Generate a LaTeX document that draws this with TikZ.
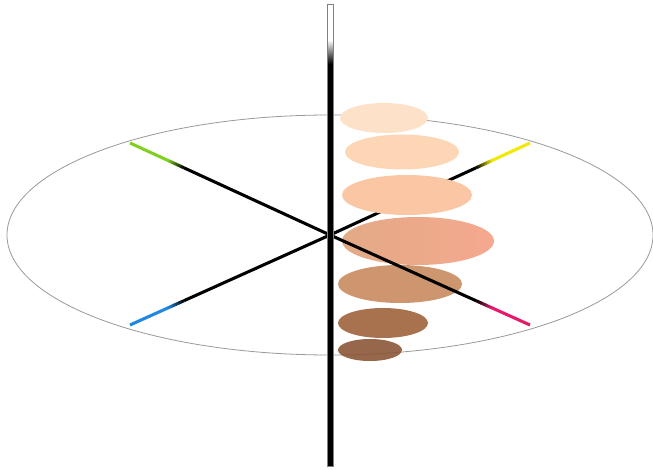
\documentclass[tikz,border=0pt]{standalone}
\usetikzlibrary{calc}
\begin{document}
\begin{tikzpicture}[x=0.75pt,y=-0.75pt]
\definecolor{eA}{HTML}{FDE1C9}
\definecolor{eB}{HTML}{FDD7B5}
\definecolor{eC}{HTML}{FBC6A3}
\definecolor{eDl}{HTML}{E2AA86}
\definecolor{eDr}{HTML}{F6A88E}
\definecolor{eE}{HTML}{CE966E}
\definecolor{eF}{HTML}{A8724F}
\definecolor{eG}{HTML}{8B5637}
\definecolor{axG}{HTML}{80D020}
\definecolor{axY}{HTML}{F2E800}
\definecolor{axB}{HTML}{2088E0}
\definecolor{axM}{HTML}{E8186A}
\tikzset{
  axisline/.style={line width=2.3pt,line cap=butt},
  skin/.style={draw=none},
}
\useasboundingbox (0,0) rectangle (653,470);
\coordinate (O) at (330,235);
\coordinate (G) at (130,143);
\coordinate (Y) at (530,143);
\coordinate (B) at (130,325);
\coordinate (M) at (530,325);
% outer ellipse
\draw[gray!80,line width=0.6pt] (O) ellipse [x radius=323, y radius=120];
% colored axes
\newcommand{\coloraxis}[2]{%
  \draw[axisline,black] (O) -- ($(O)!0.73!(#1)$);
  \foreach \i in {0,...,9}{%
    \pgfmathsetmacro{\ta}{0.73+0.008*\i}
    \pgfmathsetmacro{\tb}{0.73+0.008*(\i+1)+0.002}
    \pgfmathsetmacro{\pc}{10*\i+5}
    \draw[axisline,#2!\pc!black] ($(O)!\ta!(#1)$) -- ($(O)!\tb!(#1)$);
  }
  \draw[axisline,#2] ($(O)!0.81!(#1)$) -- (#1);
}
\coloraxis{G}{axG}
\coloraxis{B}{axB}
\coloraxis{Y}{axY}
% skin ellipses
\fill[skin,eA] (384,118) ellipse [x radius=44, y radius=15];
\fill[skin,eB] (402,152) ellipse [x radius=57, y radius=17.5];
\fill[skin,eC] (407,195) ellipse [x radius=65, y radius=20];
\shade[skin,left color=eDl,right color=eDr] (418,241) ellipse [x radius=76, y radius=24];
\fill[skin,eE] (400,284) ellipse [x radius=62, y radius=19];
\fill[skin,eF] (383,323) ellipse [x radius=45, y radius=15];
\fill[skin,eG,fill opacity=0.9] (370,350) ellipse [x radius=32, y radius=11];
% front axis
\coloraxis{M}{axM}
% vertical axis
\fill[white] (327,4) rectangle (333,40);
\shade[top color=white,bottom color=black] (327,40) rectangle (333,64);
\fill[black] (327,64) rectangle (333,466);
\draw[gray,line width=0.5pt] (327,4) rectangle (333,466);
\end{tikzpicture}
\end{document}
